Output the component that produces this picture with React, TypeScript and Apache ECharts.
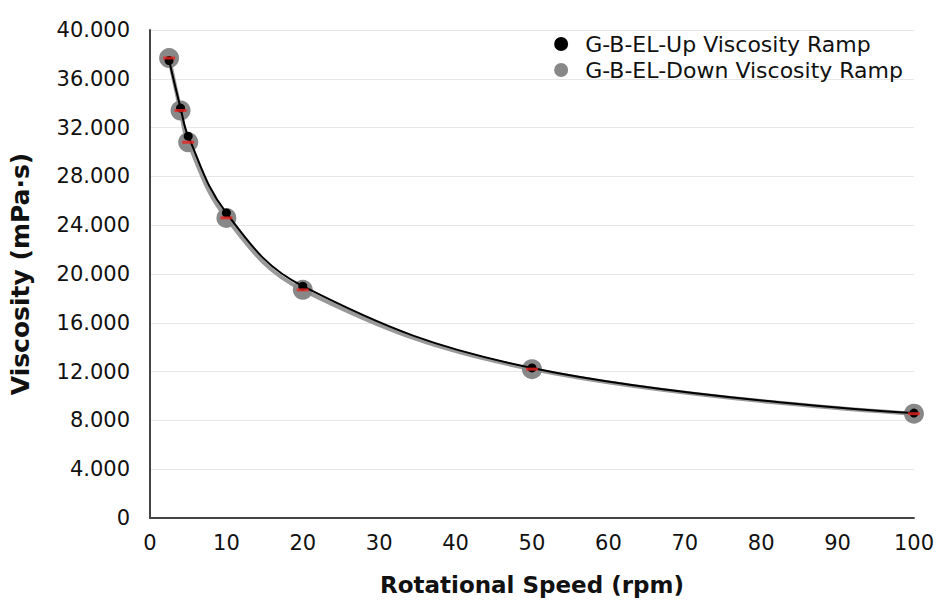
import React, { useEffect, useRef } from "react";
import * as echarts from "echarts";

const speeds = [2.5, 4, 5, 10, 20, 50, 100];
const upViscosity = [37500, 33600, 31300, 25000, 19000, 12300, 8600];
const downViscosity = [37700, 33400, 30800, 24600, 18700, 12200, 8550];
const xTicks = [0, 10, 20, 30, 40, 50, 60, 70, 80, 90, 100];
const yTicks = [0, 4000, 8000, 12000, 16000, 20000, 24000, 28000, 32000, 36000, 40000];

const fmtY = (v: number) => (v === 0 ? "0" : (v / 1000).toFixed(3));
const legendIcon = "path://M0,7a7,7 0 1,0 14,0a7,7 0 1,0 -14,0ZM26,7L26,7";

export default function App() {
  const ref = useRef<HTMLDivElement>(null);
  useEffect(() => {
    const chart = echarts.init(ref.current!, null, { renderer: "svg" });
    const font = "'DejaVu Sans', Arial, Helvetica, sans-serif";
    const up = speeds.map((s, i) => [s, upViscosity[i]]);
    const down = speeds.map((s, i) => [s, downViscosity[i]]);
    chart.setOption({
      animation: false,
      backgroundColor: "#ffffff",
      textStyle: { fontFamily: font },
      grid: { left: 150, right: 23, top: 30, bottom: 82 },
      legend: {
        orient: "vertical",
        right: 29,
        top: 28,
        itemGap: 4,
        itemWidth: 26,
        itemHeight: 14,
        textStyle: { fontSize: 22, color: "#111", fontFamily: font },
        data: [
          { name: "G-B-EL-Up Viscosity Ramp", icon: legendIcon, itemStyle: { color: "#000" } },
          { name: "G-B-EL-Down Viscosity Ramp", icon: legendIcon, itemStyle: { color: "#888" } },
        ],
      },
      xAxis: {
        type: "value",
        min: xTicks[0],
        max: xTicks[xTicks.length - 1],
        interval: 10,
        name: "Rotational Speed (rpm)",
        nameLocation: "middle",
        nameGap: 55,
        nameTextStyle: { fontSize: 23, fontWeight: "bold", color: "#111", fontFamily: font },
        axisLine: { lineStyle: { color: "#444", width: 2 } },
        axisTick: { show: false },
        axisLabel: { fontSize: 21, color: "#111", margin: 14 },
        splitLine: { show: false },
      },
      yAxis: {
        type: "value",
        min: yTicks[0],
        max: yTicks[yTicks.length - 1],
        interval: 4000,
        name: "Viscosity (mPa·s)",
        nameLocation: "middle",
        nameGap: 117,
        nameTextStyle: { fontSize: 25, fontWeight: "bold", color: "#111", fontFamily: font },
        axisLine: { show: true, lineStyle: { color: "#444", width: 2 } },
        axisTick: { show: false },
        axisLabel: { fontSize: 21, color: "#111", margin: 20, formatter: fmtY },
        splitLine: { lineStyle: { color: "#e6e6e6", width: 1 } },
      },
      series: [
        {
          name: "G-B-EL-Down Viscosity Ramp",
          type: "line",
          smooth: 0.4,
          data: down,
          symbol: "circle",
          symbolSize: 20,
          itemStyle: { color: "#888" },
          lineStyle: { color: "#999", width: 4 },
          z: 2,
        },
        {
          name: "G-B-EL-Up Viscosity Ramp",
          type: "line",
          smooth: 0.4,
          data: up,
          symbol: "circle",
          symbolSize: 9,
          itemStyle: { color: "#000" },
          lineStyle: { color: "#000", width: 2 },
          z: 3,
        },
        {
          name: "err",
          type: "scatter",
          data: down,
          symbol: "rect",
          symbolSize: [12, 3],
          itemStyle: { color: "#e8231f" },
          silent: true,
          z: 4,
        },
      ],
    });
    return () => chart.dispose();
  }, []);
  return <div ref={ref} style={{ width: 937, height: 601, position: "absolute", left: 0, top: 0 }} />;
}
